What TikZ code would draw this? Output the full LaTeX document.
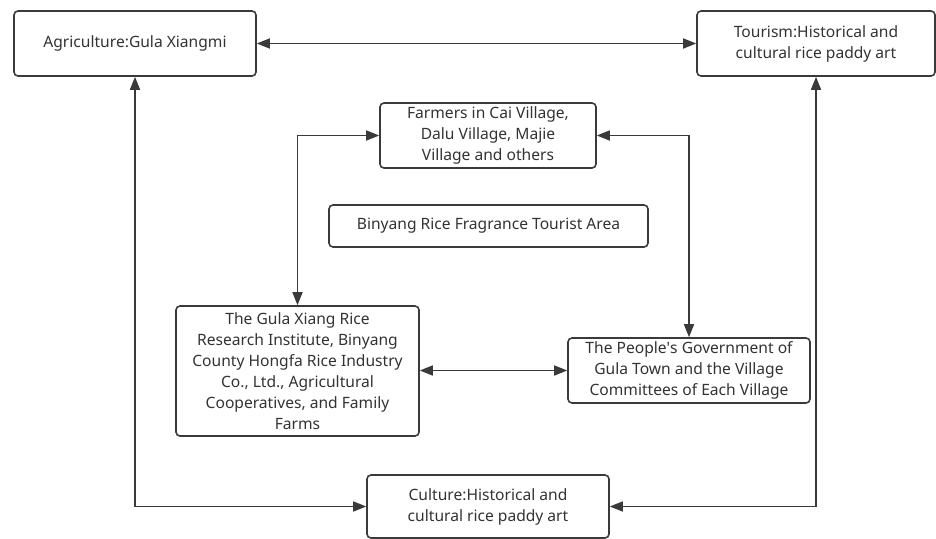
\documentclass[tikz,border=0pt]{standalone}
\usepackage{fontspec}
\setmainfont{Noto Sans}
\usetikzlibrary{arrows.meta}
\definecolor{ink}{HTML}{333333}
\definecolor{edge}{HTML}{3A3A3A}
\tikzset{
  box/.style={draw=edge, line width=1.6pt, rounded corners=4pt, fill=white,
    text=ink, align=center, inner sep=0pt,
    font=\fontsize{15.6}{21}\selectfont},
  link/.style={draw=edge, line width=1.6pt,
    {Triangle[length=13pt,width=10pt]}-{Triangle[length=13pt,width=10pt]}},
}
\begin{document}
\begin{tikzpicture}[x=1pt,y=-1pt]
\useasboundingbox (0,0) rectangle (936,538);
\node[box, minimum width=242pt, minimum height=65pt] (agri) at (135,43.5) {Agriculture:Gula Xiangmi};
\node[box, minimum width=238pt, minimum height=65pt] (tour) at (816,43.5) {Tourism:Historical and\\cultural rice paddy art};
\node[box, minimum width=216pt, minimum height=65pt] (farm) at (488,135.5) {Farmers in Cai Village,\\Dalu Village, Majie\\Village and others};
\node[box, minimum width=319pt, minimum height=42pt] (bin) at (488.5,226) {Binyang Rice Fragrance Tourist Area};
\node[box, minimum width=243pt, minimum height=130pt] (gula) at (297.5,371) {The Gula Xiang Rice\\Research Institute, Binyang\\County Hongfa Rice Industry\\Co., Ltd., Agricultural\\Cooperatives, and Family\\Farms};
\node[box, minimum width=242pt, minimum height=65pt] (gov) at (689,370.5) {The People\textquotesingle s Government of\\Gula Town and the Village\\Committees of Each Village};
\node[box, minimum width=242pt, minimum height=63pt] (cult) at (488,506.5) {Culture:Historical and\\cultural rice paddy art};
\draw[link] (agri.east) -- (tour.west);
\draw[link] (farm.west) -| (gula.north);
\draw[link] (farm.east) -| (gov.north);
\draw[link] (gula.east |- gov.west) -- (gov.west);
\draw[link] (agri.south) |- (cult.west);
\draw[link] (tour.south) |- (cult.east);
\end{tikzpicture}
\end{document}
